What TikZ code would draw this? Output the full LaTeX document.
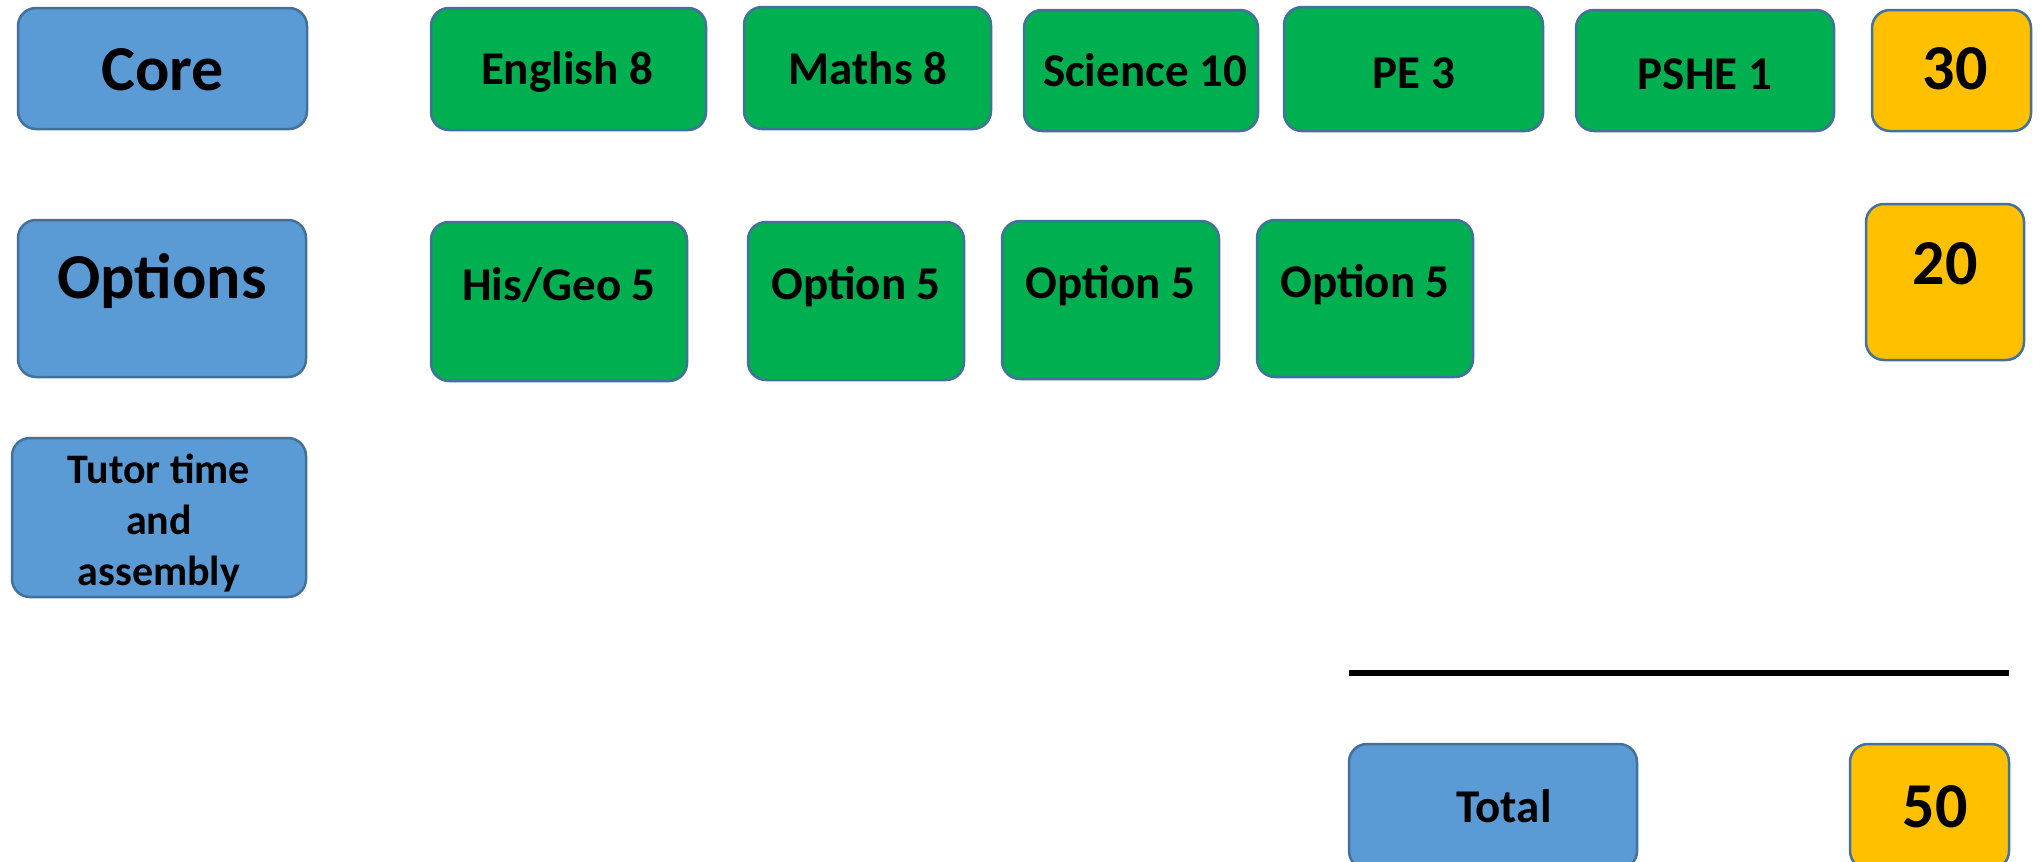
\documentclass[tikz,border=0pt]{standalone}
\usepackage{fontspec}
\setmainfont{Carlito}
\definecolor{boxline}{HTML}{41719C}
\definecolor{boxblue}{HTML}{5B9BD5}
\definecolor{boxgreen}{HTML}{00B050}
\definecolor{boxgold}{HTML}{FFC000}
\tikzset{
  box/.style={draw=boxline, line width=2.5pt, rounded corners=18pt, inner sep=0pt},
  bluebox/.style={box, fill=boxblue},
  greenbox/.style={box, fill=boxgreen},
  goldbox/.style={box, fill=boxgold},
  big/.style={font=\bfseries\fontsize{64}{77}\selectfont, text height=41pt, text depth=0pt, inner sep=0pt},
  mid/.style={font=\bfseries\fontsize{47}{56}\selectfont, text height=30pt, text depth=0pt, inner sep=0pt},
  small/.style={font=\bfseries\fontsize{42}{51}\selectfont, align=center, inner sep=0pt},
}
\begin{document}
\begin{tikzpicture}[x=1pt, y=-1pt]
\useasboundingbox (0,0) rectangle (2040,862);
% row 1
\node[bluebox, minimum width=289pt, minimum height=121pt] (core) at (162.5,68.5) {};
\node[big] (coreT) at (162.5,70) {Core};
\node[greenbox, minimum width=275pt, minimum height=122pt] (eng) at (568.5,69) {};
\node[mid] (engT) at (567,69) {English 8};
\node[greenbox, minimum width=247pt, minimum height=122pt] (maths) at (867.5,68) {};
\node[mid] (mathsT) at (868,69) {Maths 8};
\node[greenbox, minimum width=234pt, minimum height=121pt] (sci) at (1141,70.5) {};
\node[mid] (sciT) at (1145,71) {Science 10};
\node[greenbox, minimum width=259pt, minimum height=124pt] (pe) at (1413.5,69) {};
\node[mid] (peT) at (1414,73) {PE 3};
\node[greenbox, minimum width=258pt, minimum height=121pt] (pshe) at (1705,70.5) {};
\node[mid] (psheT) at (1705,74) {PSHE 1};
\node[goldbox, minimum width=159pt, minimum height=121pt] (n30) at (1951.5,70.5) {};
\node[big] (n30T) at (1955,69) {30};
% row 2
\node[bluebox, minimum width=288pt, minimum height=157pt] (opts) at (162,298.5) {};
\node[big] (optsT) at (162,278) {Options};
\node[greenbox, minimum width=256pt, minimum height=159pt] (hisgeo) at (559,301.5) {};
\node[mid] (hisgeoT) at (559,285) {His/Geo 5};
\node[greenbox, minimum width=216pt, minimum height=158pt] (opa) at (856,301) {};
\node[mid] (opaT) at (856,284) {Option 5};
\node[greenbox, minimum width=217pt, minimum height=158pt] (opb) at (1110.5,300) {};
\node[mid] (opbT) at (1110.5,283) {Option 5};
\node[greenbox, minimum width=216pt, minimum height=157pt] (opc) at (1365,298.5) {};
\node[mid] (opcT) at (1365,282) {Option 5};
\node[goldbox, minimum width=158pt, minimum height=156pt] (n20) at (1945,282) {};
\node[big] (n20T) at (1945,264) {20};
% row 3
\node[bluebox, minimum width=294pt, minimum height=159pt] (tutor) at (159,517.5) {};
\node[small] (tutorT) at (159,523) {Tutor time\\and\\assembly};
% total
\coordinate (lineL) at (1349,673);
\coordinate (lineR) at (2009,673);
\draw[line width=6pt] (lineL) -- (lineR);
\node[bluebox, minimum width=288pt, minimum height=125pt] (total) at (1493,806.5) {};
\node[mid] (totalT) at (1504,807) {Total};
\node[goldbox, minimum width=159pt, minimum height=125pt] (n50) at (1929.5,806.5) {};
\node[big] (n50T) at (1935,807) {50};
\end{tikzpicture}
\end{document}
